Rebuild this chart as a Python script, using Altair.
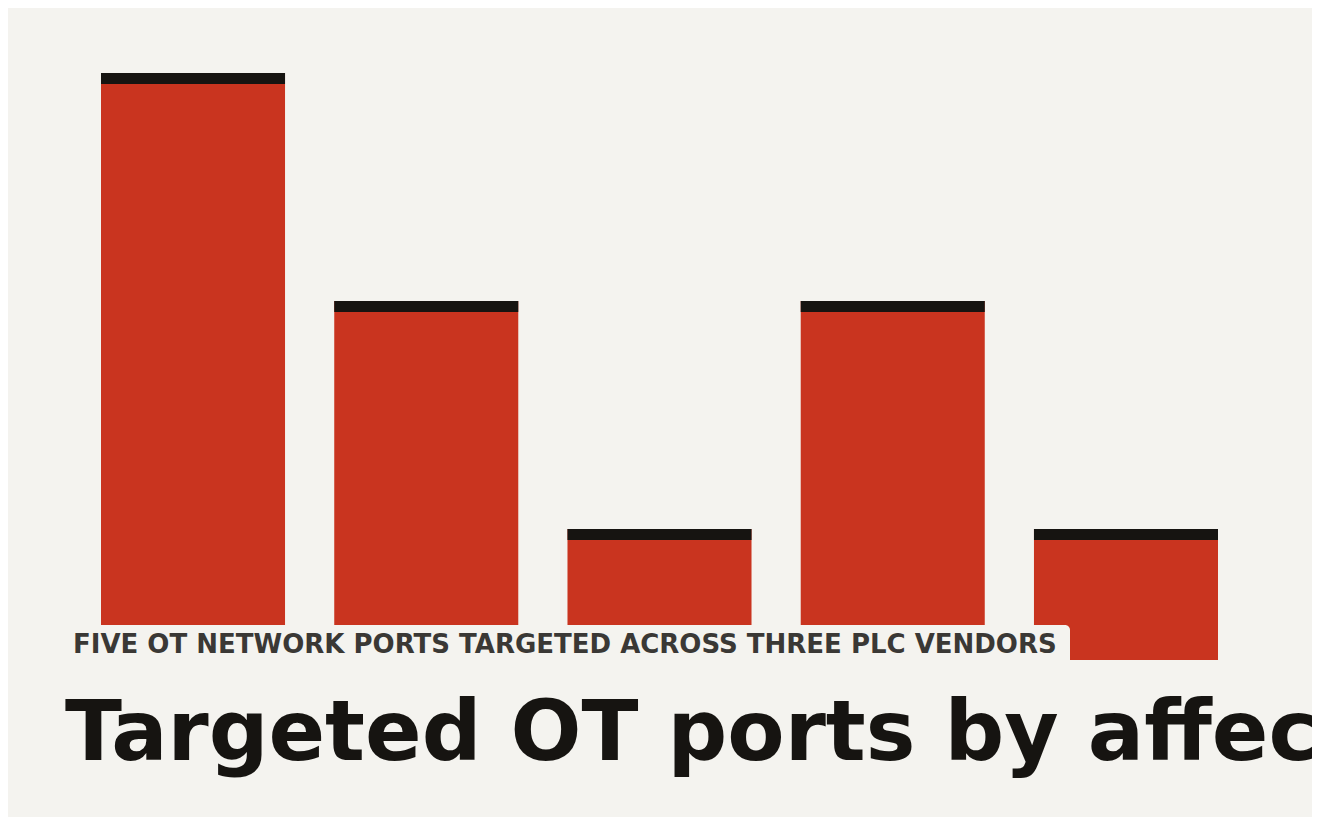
import altair as alt
import pandas as pd

# Data
ports = ["502", "102", "44818", "20000", "2404"]
vendors_hit = [3, 2, 1, 2, 1]

title_text = "Targeted OT ports by affected PLC vendor"
subtitle_text = "FIVE OT NETWORK PORTS TARGETED ACROSS THREE PLC VENDORS"

BG = "#f4f3ef"
RED = "#c9341f"
INK = "#161411"
GREY = "#3a3835"
FONT = "DejaVu Sans"

df = pd.DataFrame({"port": ports, "count": vendors_hit})
one = pd.DataFrame({"k": [0]})

x_enc = alt.X(
    "port:N",
    sort=ports,
    axis=None,
    scale=alt.Scale(range=[93, 1210], paddingInner=0.211, paddingOuter=0),
)
yscale = alt.Scale(domain=[0.4254, 3.285], clamp=True, zero=False, nice=False)

backdrop = alt.Chart(one).mark_rect(color=BG).encode(
    x=alt.value(-20), x2=alt.value(1340), y=alt.value(-20), y2=alt.value(840)
)

bars = alt.Chart(df).mark_bar(color=RED, clip=True).encode(
    x=x_enc,
    y=alt.Y("count:Q", scale=yscale, axis=None),
)

caps = (
    alt.Chart(df)
    .transform_calculate(cap="datum.count - 0.0482")
    .mark_bar(color=INK)
    .encode(
        x=x_enc,
        y=alt.Y("count:Q", scale=yscale, axis=None),
        y2="cap:Q",
    )
)

box = alt.Chart(one).mark_rect(color=BG, cornerRadius=5).encode(
    x=alt.value(-10), x2=alt.value(1062), y=alt.value(617), y2=alt.value(700)
)

sub = alt.Chart(one).mark_text(
    text=subtitle_text,
    font=FONT,
    fontWeight="bold",
    fontSize=26,
    color=GREY,
    align="left",
    baseline="alphabetic",
).encode(x=alt.value(65), y=alt.value(645))

title = alt.Chart(one).mark_text(
    text=title_text,
    font=FONT,
    fontWeight="bold",
    fontSize=83.5,
    color=INK,
    align="left",
    baseline="alphabetic",
).encode(x=alt.value(57), y=alt.value(752))

chart = (
    alt.layer(backdrop, bars, caps, box, sub, title)
    .properties(
        width=1304,
        height=652,
        autosize=alt.AutoSizeParams(type="none"),
        padding={"left": 0, "top": 0, "right": 0, "bottom": 157},
        background=BG,
    )
    .configure_view(stroke=None)
)

chart.save("out.html", embed_options={"renderer": "svg", "actions": False})
